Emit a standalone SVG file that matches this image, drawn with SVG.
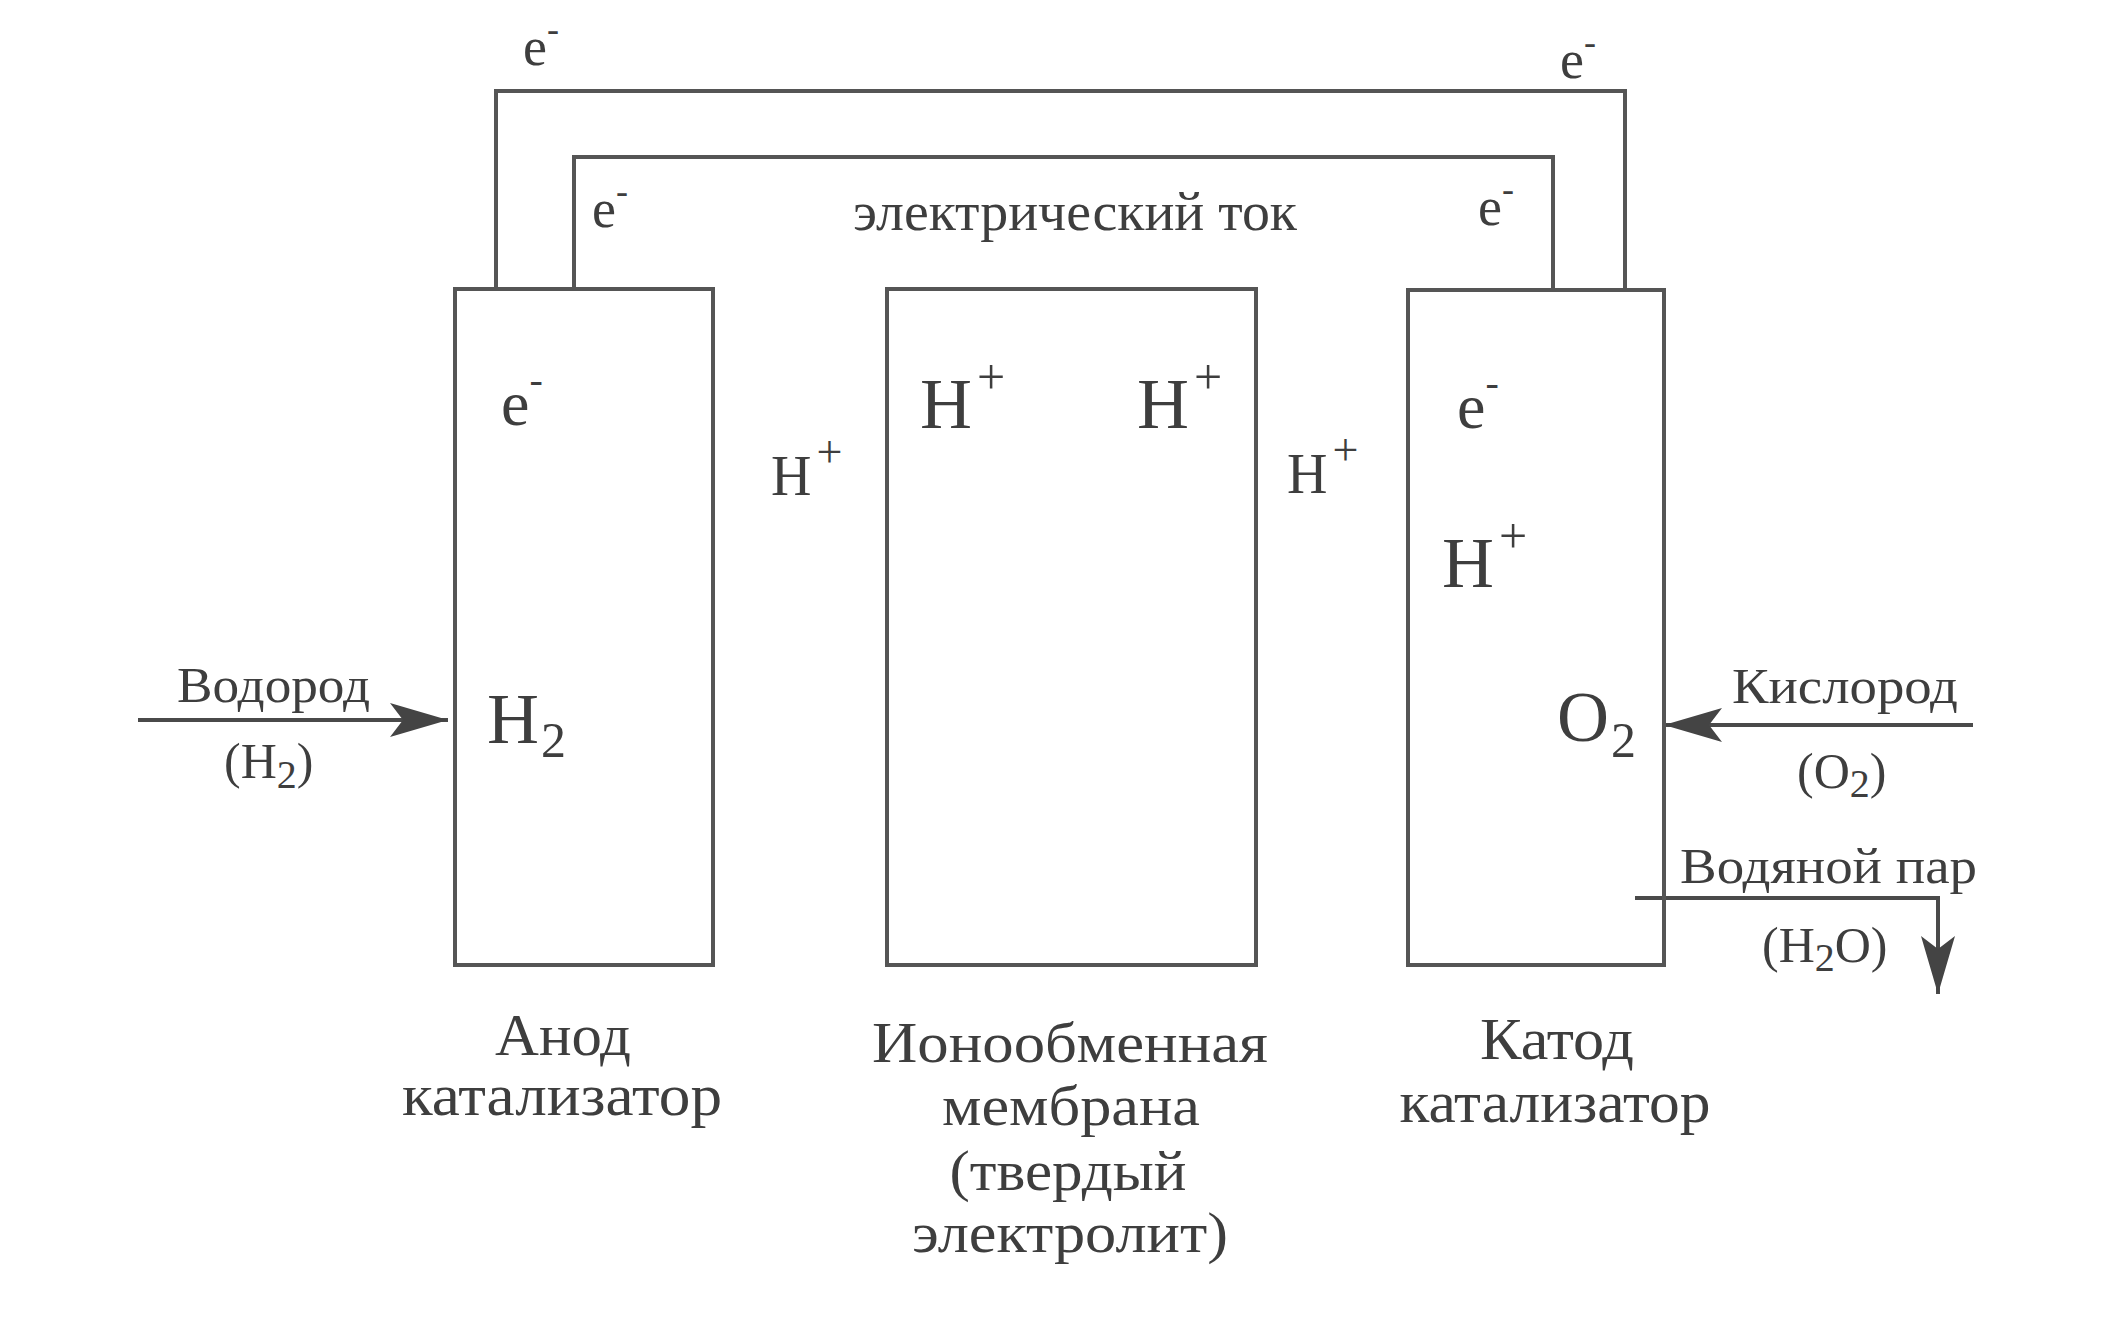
<svg xmlns="http://www.w3.org/2000/svg" width="2103" height="1332" viewBox="0 0 2103 1332">
<style>
.t{font-family:"Liberation Serif","Times New Roman",serif;fill:#3e3e3e}
.box{fill:none;stroke:#555;stroke-width:4}
.wire{fill:none;stroke:#555;stroke-width:4}
.flow{fill:none;stroke:#4a4a4a;stroke-width:4}
.w{font-size:54px}
.sw{font-size:36px}
.e{font-size:64px}
.se{font-size:40px}
.h{font-size:72px}
.sp{font-size:50px}
.hg{font-size:56px}
.spg{font-size:46px}
.sub{font-size:50px}
.lab{font-size:60px}
.mem{font-size:58px}
.cur{font-size:54px}
.gas{font-size:50px}
.gsub{font-size:40px}
</style>
<defs>
<marker id="arr" viewBox="0 0 58 34" refX="58" refY="17" markerWidth="58" markerHeight="34" markerUnits="userSpaceOnUse" orient="auto">
<path d="M0,0 L58,17 L0,34 L13,17 Z" fill="#444"/>
</marker>
</defs>
<rect width="2103" height="1332" fill="#ffffff"/>

<g id="connectors">
<path id="wire-outer" class="wire" d="M496,289 V91 H1625 V291"/>
<path id="wire-inner" class="wire" d="M574,289 V157 H1553 V291"/>
<path id="h2-in" class="flow" d="M138,720 H448" marker-end="url(#arr)"/>
<path id="o2-in" class="flow" d="M1973,725 H1664" marker-end="url(#arr)"/>
<path id="h2o-out" class="flow" d="M1635,898 H1938 V994" marker-end="url(#arr)"/>
</g>

<g id="wire-labels">
<text class="t w" x="523" y="65">e<tspan class="sw" dy="-24">-</tspan></text>
<text class="t w" x="1560" y="78">e<tspan class="sw" dy="-24">-</tspan></text>
<text class="t w" x="592" y="227">e<tspan class="sw" dy="-24">-</tspan></text>
<text class="t w" x="1478" y="225">e<tspan class="sw" dy="-24">-</tspan></text>
<text class="t cur" x="853" y="230" textLength="444" lengthAdjust="spacingAndGlyphs">электрический ток</text>
</g>

<g id="anode">
<rect class="box" x="455" y="289" width="258" height="676"/>
<text class="t e" x="501" y="425">e<tspan class="se" dy="-32">-</tspan></text>
<text class="t h" x="487" y="743">H<tspan class="sub" dx="2" dy="14">2</tspan></text>
<text class="t lab" x="563" y="1055" text-anchor="middle" textLength="136" lengthAdjust="spacingAndGlyphs">Анод</text>
<text class="t lab" x="562" y="1115" text-anchor="middle" textLength="320" lengthAdjust="spacingAndGlyphs">катализатор</text>
</g>

<g id="gap-left">
<text class="t hg" x="771" y="495">H<tspan class="spg" dx="5" dy="-28">+</tspan></text>
</g>

<g id="membrane">
<rect class="box" x="887" y="289" width="369" height="676"/>
<text class="t h" x="920" y="428">H<tspan class="sp" dx="5" dy="-34">+</tspan></text>
<text class="t h" x="1137" y="428">H<tspan class="sp" dx="5" dy="-34">+</tspan></text>
<text class="t mem" x="1070" y="1062" text-anchor="middle" textLength="396" lengthAdjust="spacingAndGlyphs">Ионообменная</text>
<text class="t mem" x="1071" y="1125" text-anchor="middle" textLength="258" lengthAdjust="spacingAndGlyphs">мембрана</text>
<text class="t mem" x="1068" y="1190" text-anchor="middle" textLength="237" lengthAdjust="spacingAndGlyphs">(твердый</text>
<text class="t mem" x="1070" y="1252" text-anchor="middle" textLength="316" lengthAdjust="spacingAndGlyphs">электролит)</text>
</g>

<g id="gap-right">
<text class="t hg" x="1287" y="493">H<tspan class="spg" dx="5" dy="-28">+</tspan></text>
</g>

<g id="cathode">
<rect class="box" x="1408" y="290" width="256" height="675"/>
<text class="t e" x="1457" y="428">e<tspan class="se" dy="-32">-</tspan></text>
<text class="t h" x="1442" y="587">H<tspan class="sp" dx="5" dy="-34">+</tspan></text>
<text class="t h" x="1557" y="741">O<tspan class="sub" dx="2" dy="16">2</tspan></text>
<text class="t lab" x="1557" y="1059" text-anchor="middle" textLength="154" lengthAdjust="spacingAndGlyphs">Катод</text>
<text class="t lab" x="1555" y="1122" text-anchor="middle" textLength="311" lengthAdjust="spacingAndGlyphs">катализатор</text>
</g>

<g id="hydrogen-label">
<text class="t gas" x="177" y="702" textLength="193" lengthAdjust="spacingAndGlyphs">Водород</text>
<text class="t gas" x="224" y="778">(H<tspan class="gsub" dy="10">2</tspan><tspan dy="-10">)</tspan></text>
</g>

<g id="oxygen-label">
<text class="t gas" x="1797" y="788">(O<tspan class="gsub" dy="9">2</tspan><tspan dy="-9">)</tspan></text>
<text class="t gas" x="1732" y="703" textLength="226" lengthAdjust="spacingAndGlyphs">Кислород</text>
</g>

<g id="water-label">
<text class="t gas" x="1680" y="883" textLength="297" lengthAdjust="spacingAndGlyphs">Водяной пар</text>
<text class="t gas" x="1762" y="962">(H<tspan class="gsub" dy="9">2</tspan><tspan dy="-9">O)</tspan></text>
</g>
</svg>
